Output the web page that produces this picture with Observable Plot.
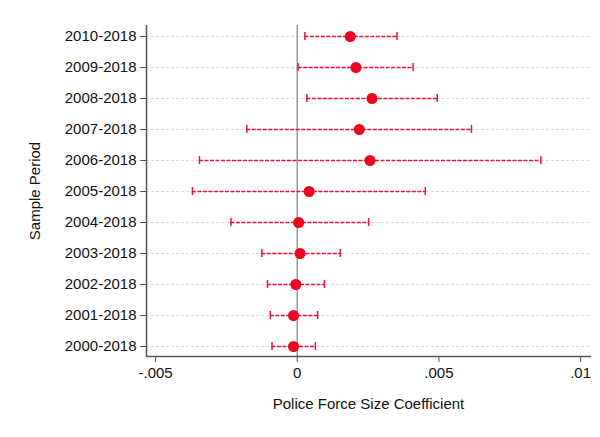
<!DOCTYPE html>
<html>
<head>
<meta charset="utf-8">
<script src="https://cdn.jsdelivr.net/npm/d3@7"></script>
<script src="https://cdn.jsdelivr.net/npm/@observablehq/plot@0.6"></script>
<style>
  html, body { margin: 0; padding: 0; background: #fff; }
  #chart svg { display: block; }
</style>
</head>
<body>
<div id="chart"></div>
<script>
const periods = ["2010-2018","2009-2018","2008-2018","2007-2018","2006-2018","2005-2018","2004-2018","2003-2018","2002-2018","2001-2018","2000-2018"];
const coef  = [0.00187, 0.00207, 0.00264, 0.00219, 0.00257, 0.00042, 0.00005, 0.00010, -0.00005, -0.00013, -0.00013];
const lower = [0.00027, 0.00003, 0.00034, -0.00178, -0.00345, -0.00370, -0.00234, -0.00125, -0.00105, -0.00095, -0.00089];
const upper = [0.00352, 0.00409, 0.00494, 0.00615, 0.00860, 0.00452, 0.00252, 0.00152, 0.00096, 0.00072, 0.00064];
const xTicks = [-0.005, 0, 0.005, 0.01];
const xDomain = [-0.00532, 0.01035];

const data = periods.map((p, i) => ({period: p, coef: coef[i], lo: lower[i], hi: upper[i]}));
const fmt = d => d === 0 ? "0" : String(d).replace("0.", ".");

const red = "#ee1133";
const chart = Plot.plot({
  width: 600,
  height: 437,
  marginLeft: 146,
  marginRight: 10,
  marginTop: 25,
  marginBottom: 81,
  style: {fontFamily: "'Liberation Sans', Arial, sans-serif", fontSize: "15px", color: "#111", background: "#fff"},
  x: {domain: xDomain, ticks: xTicks, tickFormat: fmt, label: null},
  y: {type: "band", domain: periods, paddingInner: 0.744, paddingOuter: 0.16, label: null},
  marks: [
    Plot.ruleY(periods, {y: d => d, stroke: "#dcdcdc", strokeWidth: 1, strokeDasharray: "3,2"}),
    Plot.ruleX([0], {stroke: "#999", strokeWidth: 1.5}),
    Plot.ruleX([xDomain[0]], {stroke: "#555", strokeWidth: 1.5}),
    Plot.frame({anchor: "bottom", stroke: "#555", strokeWidth: 1.5}),
    Plot.ruleY(data, {y: "period", x1: "lo", x2: "hi", stroke: red, strokeWidth: 1.5, strokeDasharray: "4,1.5"}),
    Plot.tickX(data, {x: "lo", y: "period", stroke: red, strokeWidth: 1.5}),
    Plot.tickX(data, {x: "hi", y: "period", stroke: red, strokeWidth: 1.5}),
    Plot.dot(data, {x: "coef", y: "period", r: 5.5, fill: "#f20020", stroke: "none"}),
    Plot.axisX({ticks: xTicks, tickFormat: fmt, tickSize: 6, tickPadding: 5, label: null, stroke: "#555"}),
    Plot.axisY({tickSize: 6, tickPadding: 4, label: null, stroke: "#555"}),
    Plot.text(["Police Force Size Coefficient"], {frameAnchor: "bottom", dy: 52, text: d => d, fontSize: 15, fill: "#111"}),
    Plot.text(["Sample Period"], {frameAnchor: "left", dx: -111, rotate: -90, textAnchor: "middle", text: d => d, fontSize: 15, fill: "#111"})
  ]
});
document.getElementById("chart").append(chart);
</script>
</body>
</html>
